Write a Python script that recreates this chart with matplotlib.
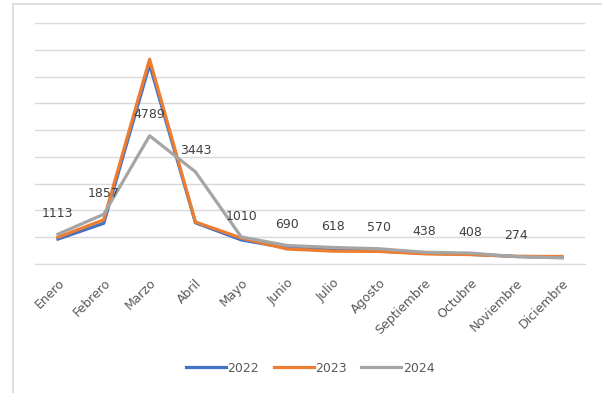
import matplotlib
matplotlib.use("Agg")
import matplotlib.pyplot as plt
from matplotlib.lines import Line2D

months = ["Enero", "Febrero", "Marzo", "Abril", "Mayo", "Junio", "Julio",
          "Agosto", "Septiembre", "Octubre", "Noviembre", "Diciembre"]
v2022 = [930, 1520, 7450, 1540, 900, 600, 520, 480, 400, 360, 280, 240]
v2023 = [1000, 1650, 7650, 1570, 970, 560, 480, 470, 380, 350, 290, 280]
v2024 = [1113, 1857, 4789, 3443, 1010, 690, 618, 570, 438, 408, 274, 230]
labels2024 = ["1113", "1857", "4789", "3443", "1010", "690", "618", "570",
              "438", "408", "274", ""]
series_names = ["2022", "2023", "2024"]
colors = ["#4472C4", "#ED7D31", "#A5A5A5"]

W, H = 602, 393
fig = plt.figure(figsize=(W / 100, H / 100), dpi=100)
fig.patch.set_facecolor("white")

# outer chart border (left and top edges visible)
fig.add_artist(Line2D([13 / W, 13 / W], [1 - 4 / H, 0], transform=fig.transFigure,
                      color="#d9d9d9", linewidth=1.2))
fig.add_artist(Line2D([13 / W, 1], [1 - 4 / H, 1 - 4 / H], transform=fig.transFigure,
                      color="#d9d9d9", linewidth=1.2))

ax = fig.add_axes([35 / W, 1 - 264 / H, (585 - 35) / W, (264 - 23) / H])
x = list(range(len(months)))
for vals, c in zip([v2022, v2023, v2024], colors):
    ax.plot(x, vals, color=c, linewidth=2.3, solid_joinstyle="round", zorder=3)

for xi, (v, lab) in enumerate(zip(v2024, labels2024)):
    if lab:
        ax.annotate(lab, (xi, v), xytext=(0, 15), textcoords="offset points",
                    ha="center", va="center", fontsize=9, color="#404040", zorder=4)

ax.set_xlim(-0.5, len(months) - 0.5)
ax.set_ylim(0, 9000)
ax.set_yticks(range(0, 9001, 1000))
ax.yaxis.grid(True, color="#d9d9d9", linewidth=1)
ax.tick_params(axis="y", left=False, labelleft=False)
ax.set_xticks(x)
ax.set_xticklabels(months, rotation=45, ha="right", rotation_mode="anchor",
                   fontsize=9, color="#595959")
ax.tick_params(axis="x", length=0, pad=9)
for s in ["top", "right", "left"]:
    ax.spines[s].set_visible(False)
ax.spines["bottom"].set_color("#d9d9d9")
ax.set_axisbelow(True)

handles = [Line2D([0], [0], color=c, linewidth=2.3) for c in colors]
fig.legend(handles, series_names, loc="center", bbox_to_anchor=(310 / W, 1 - 368 / H),
           ncol=3, frameon=False, fontsize=9, handlelength=3.2, handletextpad=0.1,
           columnspacing=1.2, labelcolor="#595959")

fig.savefig("out.png", dpi=100, facecolor="white")
